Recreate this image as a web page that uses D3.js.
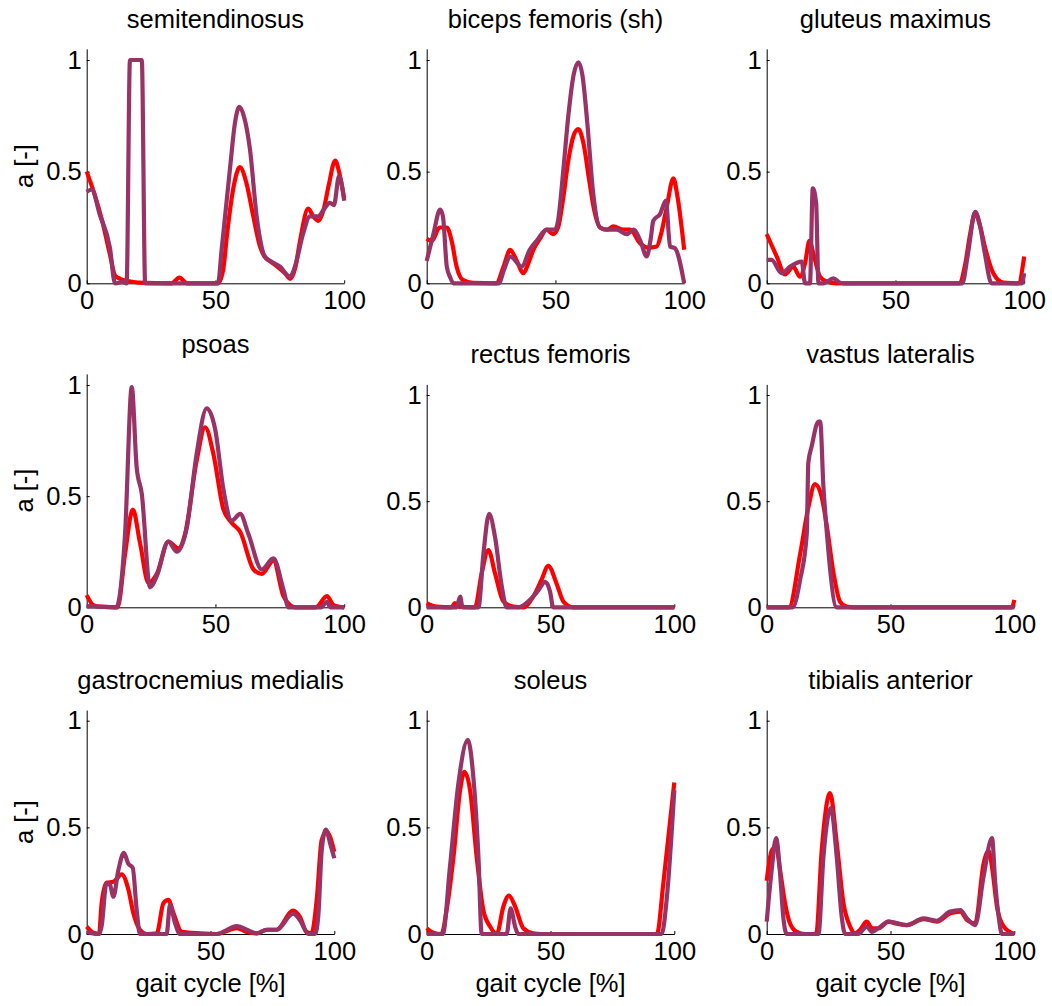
<!DOCTYPE html>
<html>
<head>
<meta charset="utf-8">
<script src="https://cdn.jsdelivr.net/npm/d3@7"></script>
<style>
  body { margin: 0; background: #fff; }
  svg { display: block; }
</style>
</head>
<body>
<div id="plot"></div>
<script>
// muscle activations over the gait cycle, two solutions per muscle
const titles = ["semitendinosus", "biceps femoris (sh)", "gluteus maximus",
  "psoas", "rectus femoris", "vastus lateralis",
  "gastrocnemius medialis", "soleus", "tibialis anterior"];

const xTicks = [0, 50, 100];
const yTicks = [0, 0.5, 1];

// [gait %, activation]
const semiRed = [[0,0.5],[3,0.4],[6,0.28],[9,0.13],[11,0.035],[13,0.02],[16,0.01],[20,0.003],[33,0],[36,0.025],[39,0],[51,0],[53,0.06],[54.5,0.22],[57,0.43],[59.5,0.52],[62,0.45],[64.7,0.3],[67.3,0.165],[69,0.12],[71,0.1],[74,0.075],[77,0.045],[79,0.02],[81,0.07],[83,0.2],[86,0.335],[88,0.3],[90,0.28],[92,0.33],[94,0.44],[96.5,0.55],[98,0.5],[100,0.38]];
const semiPurple = [[0,0.41],[2,0.42],[5,0.31],[9,0.16],[11,0],[14,0.005],[15.5,0],[16.8,1],[21.4,1],[22.7,0],[51,0],[52.4,0.15],[55.7,0.52],[57.6,0.72],[59.3,0.79],[61,0.75],[63.4,0.6],[66,0.3],[68.6,0.134],[70,0.11],[72,0.095],[75,0.075],[79,0.03],[81,0.08],[84,0.22],[86.7,0.3],[90,0.3],[92,0.33],[94.5,0.36],[96,0.35],[98,0.48],[100,0.37]];

const bfshRed = [[0,0.2],[2,0.19],[5,0.25],[7.8,0.25],[9.7,0.19],[11.6,0.075],[14,0.015],[18,0.002],[27,0],[30,0.08],[32.4,0.15],[35,0.1],[37.5,0.045],[39.5,0.09],[41.4,0.15],[44,0.2],[46.6,0.24],[49,0.22],[51,0.25],[53,0.38],[55,0.55],[57,0.66],[58.9,0.69],[61,0.62],[63,0.47],[65,0.33],[67.3,0.25],[70,0.24],[72.5,0.255],[76.4,0.24],[79,0.24],[82.8,0.18],[86,0.16],[89.3,0.165],[91,0.22],[93.2,0.34],[95.8,0.47],[97.5,0.38],[100,0.15]];
const bfshPurple = [[0,0.1],[2.6,0.22],[5.2,0.33],[6.3,0.3],[7.8,0.075],[9,0.03],[10.4,0],[28,0],[30,0.06],[32.4,0.12],[36.9,0.075],[40,0.15],[42.7,0.19],[46.6,0.24],[49.8,0.24],[51,0.28],[53,0.5],[55,0.75],[57,0.93],[58.9,0.99],[60.5,0.93],[62.5,0.7],[64.5,0.42],[67.3,0.25],[70,0.24],[73.8,0.24],[77.7,0.22],[80.3,0.24],[83,0.19],[85.4,0.12],[87,0.2],[88,0.28],[90.6,0.31],[92.9,0.37],[94.5,0.165],[96.4,0.157],[100,0]];

const gmaxRed = [[0,0.22],[3.9,0.12],[7.1,0.04],[10.3,0.075],[12.9,0.03],[14.9,0.09],[16.6,0.19],[18.4,0.12],[20.7,0.03],[23.3,0.008],[27,0],[75,0],[77,0.08],[79,0.22],[80.9,0.315],[82.8,0.26],[84.7,0.165],[88,0.045],[91.9,0.003],[97.7,0],[100,0.12]];
const gmaxPurple = [[0,0.105],[1.9,0.105],[5.8,0.045],[9.1,0.075],[13.6,0.097],[14.9,0],[16.8,0],[17.9,0.425],[19.2,0.36],[20.1,0],[22,0],[25.9,0.022],[28.5,0.003],[30,0],[76,0],[78,0.12],[81,0.32],[82.8,0.26],[84.7,0.135],[87.3,0],[99,0],[100,0.045]];

const psoasRed = [[0,0.055],[2.6,0.01],[5.2,0.003],[12,0],[14.9,0.24],[17.9,0.44],[20.7,0.29],[24,0.11],[27.2,0.15],[31.7,0.295],[35.6,0.265],[38.2,0.33],[42.7,0.66],[46,0.81],[49.2,0.69],[53.1,0.44],[56.3,0.38],[59.6,0.34],[64.8,0.17],[68,0.15],[72.5,0.21],[76.4,0.05],[79,0.01],[81,0],[89,0],[93.3,0.05],[95.9,0.01],[100,0]];
const psoasPurple = [[0,0.005],[11.5,0],[14.9,0.33],[17.5,0.99],[19.4,0.63],[21.4,0.51],[24.6,0.09],[27.2,0.14],[31.7,0.295],[35,0.25],[38.9,0.36],[42.7,0.69],[46.6,0.895],[49.9,0.8],[53.1,0.53],[56.3,0.39],[59.6,0.42],[62.8,0.33],[68,0.17],[72.5,0.22],[76.4,0.08],[78.4,0],[91,0],[93.3,0.025],[94.6,0],[100,0]];

const rfRed = [[0,0.02],[4,0.003],[10,0],[11.4,0.02],[12.8,0.003],[19.5,0],[22.2,0.16],[24.9,0.27],[27.6,0.16],[31,0.027],[35,0.003],[39,0],[43,0.05],[46.4,0.13],[49.1,0.195],[52.5,0.11],[55.2,0.027],[59.2,0],[100,0]];
const rfPurple = [[0,0],[12,0],[13.5,0.05],[14.5,0],[20.9,0],[22.9,0.25],[25.2,0.44],[27.6,0.33],[30.3,0.1],[32.3,0],[37,0],[41.7,0.035],[45.1,0.08],[47.8,0.12],[49.8,0.075],[51.1,0],[100,0]];

const vlRed = [[0,0],[9,0],[13.5,0.25],[16.8,0.47],[19.5,0.58],[22.2,0.52],[24.3,0.38],[27,0.16],[29.6,0.027],[32.3,0.003],[35,0],[99,0],[100,0.035]];
const vlPurple = [[0,0],[10.5,0],[13.5,0.13],[16.2,0.35],[16.8,0.68],[18.2,0.76],[20.9,0.875],[21.6,0.875],[22.9,0.57],[24.3,0.35],[28.3,0],[100,0]];

const gasRed = [[0,0.035],[2.7,0.006],[5,0],[6,0.14],[8,0.24],[10.8,0.245],[14.1,0.28],[16.8,0.21],[18.8,0.1],[21.5,0.02],[24.2,0],[28.3,0.003],[31,0.145],[33,0.16],[35,0.1],[38.4,0.01],[45.8,0.003],[52.5,0],[60.6,0.027],[64.6,0.01],[68.6,0.003],[72.7,0.02],[76.7,0.02],[83.4,0.11],[86.1,0.08],[88.8,0.01],[90.8,0.003],[92.9,0.16],[94.9,0.44],[96.9,0.48],[100,0.385]];
const gasPurple = [[0,0.01],[5,0],[6,0.035],[8,0.24],[9.4,0.23],[10.8,0.175],[12.8,0.3],[15,0.38],[16.8,0.33],[18.6,0.31],[20.2,0.11],[21.5,0],[32.3,0],[33.6,0.135],[35.7,0.05],[37.7,0],[52.5,0],[60.6,0.037],[64.6,0.02],[68.6,0.003],[72.7,0.02],[76.7,0.02],[83.4,0.095],[86.1,0.065],[89.5,0],[92.2,0],[93.5,0.08],[94.9,0.39],[96.6,0.49],[98.3,0.425],[100,0.355]];

const solRed = [[0,0.027],[2.7,0.006],[6,0],[8,0.11],[10.8,0.36],[13.5,0.675],[15.2,0.76],[17.5,0.675],[20.2,0.36],[22.9,0.11],[25.6,0.035],[28.3,0],[31,0.13],[33.2,0.18],[35.7,0.13],[39,0.027],[43,0.003],[46,0],[93,0],[95.6,0.24],[100,0.71]];
const solPurple = [[0,0],[6.5,0],[9.4,0.315],[12.8,0.705],[16.6,0.91],[18.8,0.74],[20.9,0.36],[22.2,0],[32.3,0],[33.9,0.12],[35.7,0.035],[37,0],[94.9,0],[96.9,0.16],[100,0.675]];

const taRed = [[0,0.25],[2,0.39],[3.8,0.41],[5.4,0.3],[7.4,0.145],[9.4,0.05],[12.1,0.01],[15.5,0],[20,0],[22.2,0.39],[25.6,0.66],[28.3,0.425],[31,0.145],[33.7,0.035],[35.7,0.003],[37.7,0.02],[40.4,0.058],[42.5,0.027],[45.1,0.027],[49.2,0.058],[51.9,0.05],[56.6,0.042],[63.3,0.07],[68.7,0.058],[74.1,0.097],[78.2,0.105],[80.9,0.065],[84.2,0.05],[87.6,0.33],[89.6,0.39],[91,0.315],[93,0.128],[95.7,0.035],[100,0]];
const taPurple = [[0,0.058],[2,0.3],[3.8,0.45],[5.4,0.285],[6.7,0.08],[8.1,0],[20.9,0],[22.9,0.36],[25.9,0.59],[28.3,0.36],[30.3,0.08],[31.7,0],[37,0],[40.4,0.035],[42.5,0.01],[45.1,0.027],[49.2,0.058],[56.6,0.042],[63.3,0.073],[68.7,0.062],[74.1,0.105],[78.2,0.112],[80.9,0.073],[84.2,0.042],[87.6,0.27],[91,0.45],[92.3,0.24],[93.7,0.08],[95,0],[100,0]];

const redSeries = [semiRed, bfshRed, gmaxRed, psoasRed, rfRed, vlRed, gasRed, solRed, taRed];
const purpleSeries = [semiPurple, bfshPurple, gmaxPurple, psoasPurple, rfPurple, vlPurple, gasPurple, solPurple, taPurple];

// axes boxes in pixels: left, width, y of 0, y of 1
const boxes = [
  { l: 86.7, w: 257.5, y0: 283.3, y1: 60 },
  { l: 426.7, w: 257.5, y0: 283.3, y1: 60 },
  { l: 766.7, w: 257.5, y0: 283.3, y1: 60 },
  { l: 86.7, w: 257.5, y0: 607.3, y1: 385 },
  { l: 426.7, w: 247.6, y0: 607.3, y1: 395 },
  { l: 766.7, w: 247.6, y0: 607.3, y1: 395 },
  { l: 86.7, w: 247.6, y0: 934, y1: 720.7 },
  { l: 426.7, w: 247.6, y0: 934, y1: 720.7 },
  { l: 766.7, w: 247.6, y0: 934, y1: 720.7 }
];

const width = 1052, height = 1006;
const font = "'Liberation Sans', Arial, Helvetica, sans-serif";
const fontSize = 25.5;

const svg = d3.select("#plot")
  .append("svg")
  .attr("width", width)
  .attr("height", height)
  .style("font-family", font);

titles.forEach((title, i) => {
  const b = boxes[i];
  const top = b.y0 - 1.05 * (b.y0 - b.y1);

  const x = d3.scaleLinear().domain([0, 100]).range([b.l, b.l + b.w]);
  const y = d3.scaleLinear().domain([0, 1.05]).range([b.y0, top]);

  const g = svg.append("g");

  // x axis
  g.append("g")
    .attr("transform", `translate(0,${b.y0})`)
    .call(d3.axisBottom(x).tickValues(xTicks).tickFormat(d3.format("")).tickSizeInner(-3).tickSizeOuter(0).tickPadding(8))
    .call(a => a.attr("font-size", fontSize).attr("font-family", font))
    .call(a => a.selectAll("text").attr("fill", "#000"));

  // y axis
  g.append("g")
    .attr("transform", `translate(${b.l},0)`)
    .call(d3.axisLeft(y).tickValues(yTicks).tickFormat(d3.format("")).tickSizeInner(-3).tickSizeOuter(0).tickPadding(5))
    .call(a => a.attr("font-size", fontSize).attr("font-family", font))
    .call(a => a.selectAll("text").attr("fill", "#000"));

  const line = d3.line()
    .x(d => x(d[0]))
    .y(d => y(d[1]))
    .curve(d3.curveMonotoneX);

  g.append("path")
    .datum(redSeries[i])
    .attr("fill", "none")
    .attr("stroke", "#ff0000")
    .attr("stroke-width", 4.2)
    .attr("stroke-linejoin", "round")
    .attr("d", line);

  g.append("path")
    .datum(purpleSeries[i])
    .attr("fill", "none")
    .attr("stroke", "#993366")
    .attr("stroke-width", 4.2)
    .attr("stroke-linejoin", "round")
    .attr("d", line);

  // title
  g.append("text")
    .attr("x", b.l + b.w / 2)
    .attr("y", top - 21)
    .attr("text-anchor", "middle")
    .attr("font-size", fontSize)
    .text(title);

  // y label on the left column
  if (i % 3 === 0) {
    g.append("text")
      .attr("transform", `translate(33,${(b.y0 + top) / 2}) rotate(-90)`)
      .attr("text-anchor", "middle")
      .attr("font-size", fontSize)
      .text("a [-]");
  }

  // x label on the bottom row
  if (i >= 6) {
    g.append("text")
      .attr("x", b.l + b.w / 2)
      .attr("y", b.y0 + 57.7)
      .attr("text-anchor", "middle")
      .attr("font-size", fontSize)
      .text("gait cycle [%]");
  }
});
</script>
</body>
</html>
